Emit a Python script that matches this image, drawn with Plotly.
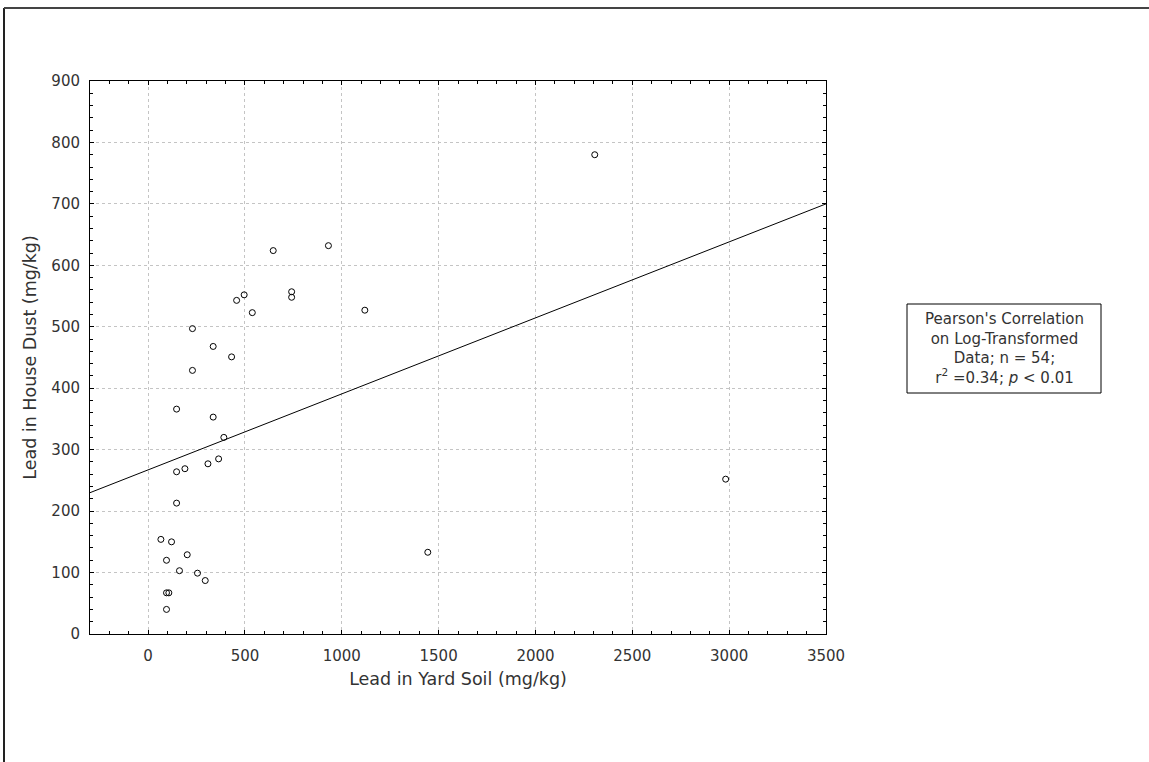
import plotly.graph_objects as go

# Data
soil = [496, 457, 538, 741, 741, 229, 336, 431, 229, 147, 336, 391, 364, 309, 190,
        147, 147, 66, 121, 202, 95, 162, 255, 295, 95, 107, 95, 646, 931, 1119,
        2306, 1444, 2982]
dust = [552, 543, 523, 557, 548, 497, 468, 451, 429, 366, 353, 320, 285, 277, 269,
        264, 213, 154, 150, 129, 120, 103, 99, 87, 67, 67, 40, 624, 632, 527,
        780, 133, 252]
fit_x = [-300, 3500]
fit_y = [230, 700]
x_ticks = [0, 500, 1000, 1500, 2000, 2500, 3000, 3500]
y_ticks = [0, 100, 200, 300, 400, 500, 600, 700, 800, 900]

W, H = 1149, 762
L, R, T, B = 90, 826, 81, 634
pw, ph = R - L, B - T


def px(x):
    return (x - L) / pw


def py(y):
    return (B - y) / ph


FONT = "DejaVu Sans, Verdana, sans-serif"
TXT = "#333333"

fig = go.Figure()
fig.add_trace(go.Scatter(x=fit_x, y=fit_y, mode="lines",
                         line=dict(color="black", width=1), hoverinfo="skip",
                         showlegend=False))
fig.add_trace(go.Scatter(x=soil, y=dust, mode="markers",
                         marker=dict(symbol="circle-open", size=6, color="black",
                                     line=dict(width=1, color="black")),
                         showlegend=False))

axis_common = dict(showline=True, linecolor="black", linewidth=1, mirror="ticks",
                   ticks="inside", ticklen=4, tickcolor="black",
                   showgrid=True, gridcolor="#c4c4c4", griddash="dot", gridwidth=1,
                   zeroline=False, tickfont=dict(family=FONT, size=15, color=TXT))

fig.update_xaxes(range=[-300, 3500], tickvals=x_ticks, **axis_common,
                 ticklabelstandoff=8,
                 minor=dict(dtick=100, ticks="inside", ticklen=3, tickcolor="black",
                            showgrid=False),
                 title=dict(text="Lead in Yard Soil (mg/kg)", standoff=8,
                            font=dict(family=FONT, size=17.5, color=TXT)))
fig.update_yaxes(range=[0, 900], tickvals=y_ticks, **axis_common,
                 ticklabelstandoff=6,
                 minor=dict(dtick=20, ticks="inside", ticklen=3, tickcolor="black",
                            showgrid=False),
                 title=dict(text="Lead in House Dust (mg/kg)", standoff=10,
                            font=dict(family=FONT, size=17.5, color=TXT)))

shapes = [
    # legend-like box
    dict(type="rect", xref="paper", yref="paper",
         x0=px(907), x1=px(1101), y0=py(393), y1=py(304),
         line=dict(color="black", width=1), fillcolor="white"),
    # page border (left and top)
    dict(type="line", xref="paper", yref="paper",
         x0=px(4), x1=px(4), y0=py(8), y1=py(762),
         line=dict(color="#222222", width=2)),
    dict(type="line", xref="paper", yref="paper",
         x0=px(4), x1=px(1149), y0=py(8), y1=py(8),
         line=dict(color="#444444", width=2)),
]

fig.add_annotation(xref="paper", yref="paper", x=px(1004), y=py(348.5),
                   xanchor="center", yanchor="middle",
                   text="Pearson's Correlation<br>on Log-Transformed<br>Data; n = 54;<br>"
                        "r<sup>2</sup> =0.34; <i>p</i> < 0.01",
                   showarrow=False, align="center",
                   font=dict(family=FONT, size=15, color=TXT))

fig.update_layout(width=W, height=H, margin=dict(l=L, r=W - R, t=T, b=H - B),
                  plot_bgcolor="white", paper_bgcolor="white", shapes=shapes,
                  font=dict(family=FONT))

fig.write_html("out.html", config={"displayModeBar": False},
               post_script="document.body.style.margin='0';document.body.style.overflow='hidden';")
